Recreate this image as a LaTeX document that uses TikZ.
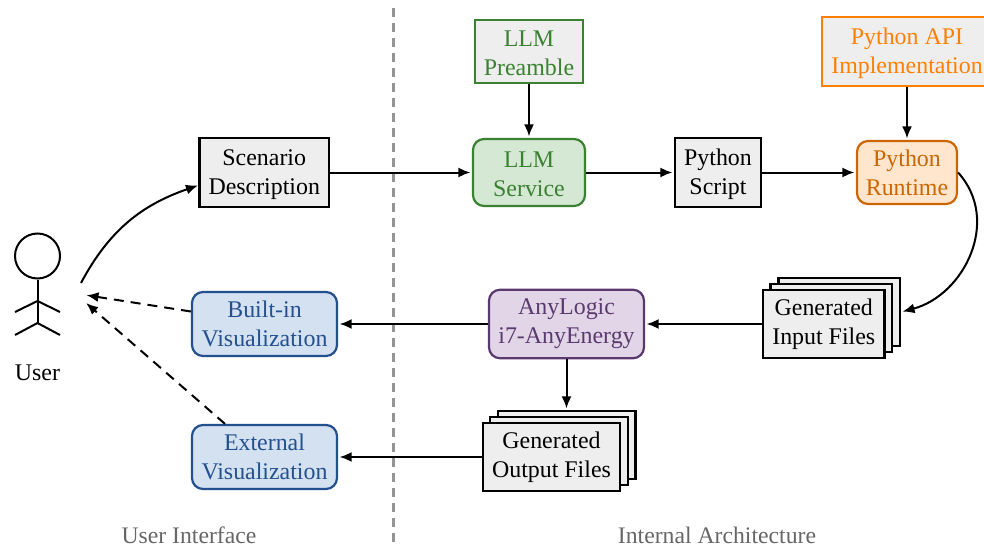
\documentclass[tikz,border=0pt]{standalone}
\usepackage{fontspec}
\setmainfont{Liberation Serif}
\usetikzlibrary{arrows.meta}
\definecolor{boxgray}{HTML}{EEEEEE}
\definecolor{greenD}{HTML}{3B8132}
\definecolor{greenF}{HTML}{D5E8D4}
\definecolor{apiO}{HTML}{FF8000}
\definecolor{runD}{HTML}{CC6600}
\definecolor{runF}{HTML}{FFE6CC}
\definecolor{purD}{HTML}{5A3A6E}
\definecolor{purF}{HTML}{E1D5E7}
\definecolor{bluD}{HTML}{23508F}
\definecolor{bluF}{HTML}{D4E1F1}
\definecolor{capt}{HTML}{666666}
\newcommand{\toplift}{\rule{0pt}{20pt}}
\tikzset{
  x=1pt,y=1pt,
  base/.style={draw,line width=2.2pt,align=center,inner sep=0pt,font=\fontsize{23.9}{29}\selectfont},
  plain/.style={base,fill=boxgray,text=black},
  soft/.style={base,rounded corners=11pt},
  green box/.style={soft,draw=greenD,fill=greenF,text=greenD},
  run box/.style={soft,draw=runD,fill=runF,text=runD},
  pur box/.style={soft,draw=purD,fill=purF,text=purD},
  blu box/.style={soft,draw=bluD,fill=bluF,text=bluD},
  size/.style 2 args={minimum width=#1 pt,minimum height=#2 pt},
  conn/.style={line width=2pt,-{Latex[length=12pt,width=10pt]},shorten >=1.5pt},
  dconn/.style={conn,dash pattern=on 10pt off 7pt},
  limb/.style={line width=2pt},
  caption/.style={text=capt,inner sep=0pt,font=\fontsize{23.7}{28}\selectfont}
}
\begin{document}
\begin{tikzpicture}
\useasboundingbox (0,0) rectangle (984,550);
\clip (0,0) rectangle (984,550);
% divider
\coordinate (divT) at (393,542);
\coordinate (divB) at (393,5);
\draw[line width=3pt,color=black!42,dash pattern=on 9pt off 6pt] (divT) -- (divB);
% actor
\node[draw,circle,line width=2pt,minimum size=45pt,inner sep=0pt] (head) at (37.5,294) {};
\coordinate (neck) at (37.5,249);
\coordinate (hip) at (37.5,227);
\coordinate (handL) at (15,238);
\coordinate (handR) at (60,238);
\coordinate (footL) at (15,215);
\coordinate (footR) at (60,215);
\draw[limb] (head.south) -- (hip);
\draw[limb] (handL) -- (neck) -- (handR);
\draw[limb] (footL) -- (hip) -- (footR);
\node[inner sep=0pt,font=\fontsize{23.9}{29}\selectfont] (user) at (37.5,177.5) {User};
\coordinate (userOut) at (81,267);
\coordinate (userInA) at (85,255);
\coordinate (userInB) at (85,248);
% boxes
\node[plain,size={129.5}{68.5}] (scen) at (264.25,377.5) {\toplift Scenario\\Description};
\node[plain,draw=greenD,text=greenD,size={108}{63}] (pre) at (529,498.5) {\toplift LLM\\Preamble};
\node[green box,size={112}{67}] (llm) at (529,377.5) {\toplift LLM\\Service};
\node[plain,size={86}{69}] (script) at (718,377.5) {\toplift Python\\Script};
\node[plain,draw=apiO,text=apiO,size={170}{69}] (api) at (907,498.5) {\toplift Python API\\Implementation};
\node[run box,size={100}{63}] (run) at (907,377.5) {Python\\Runtime};
\node[plain,size={121.5}{68}] (inC) at (839.25,238) {};
\node[plain,size={121.5}{68}] (inB) at (831.25,232) {};
\node[plain,size={121.5}{68}] (inA) at (823.75,226) {Generated\\Input Files};
\node[pur box,size={155}{68.5}] (any) at (566.5,226) {AnyLogic\\i7-AnyEnergy};
\node[blu box,size={145}{64}] (built) at (264.5,226) {Built-in\\Visualization};
\node[plain,size={137.5}{68}] (outC) at (566.75,105) {};
\node[plain,size={137.5}{68}] (outB) at (559,99) {};
\node[plain,size={137.5}{68}] (outA) at (551.5,93) {Generated\\Output Files};
\node[blu box,size={145}{64}] (ext) at (264.5,93) {External\\Visualization};
% captions
\node[caption] (capL) at (189,14.5) {User Interface};
\node[caption] (capR) at (717,14.5) {Internal Architecture};
% connectors
\draw[conn] (userOut) to[out=62,in=199,looseness=1] ([xshift=1pt]scen.west |- 0,365);
\draw[conn] (scen) -- (llm);
\draw[conn] (pre) -- (llm);
\draw[conn] (llm) -- (script);
\draw[conn] (script) -- (run);
\draw[conn] (api) -- (run);
\draw[conn] (run.east) to[out=-48,in=15,looseness=1.1] (inC.east);
\draw[conn] (inA) -- (any);
\draw[conn] (any) -- (built);
\draw[conn] (any.south) -- (any.south |- outC.north);
\draw[conn] (outA) -- (ext);
\draw[dconn] ([yshift=12.5pt]built.west) -- (userInA);
\draw[dconn] ([xshift=-39.5pt]ext.north) -- (userInB);
\end{tikzpicture}
\end{document}
